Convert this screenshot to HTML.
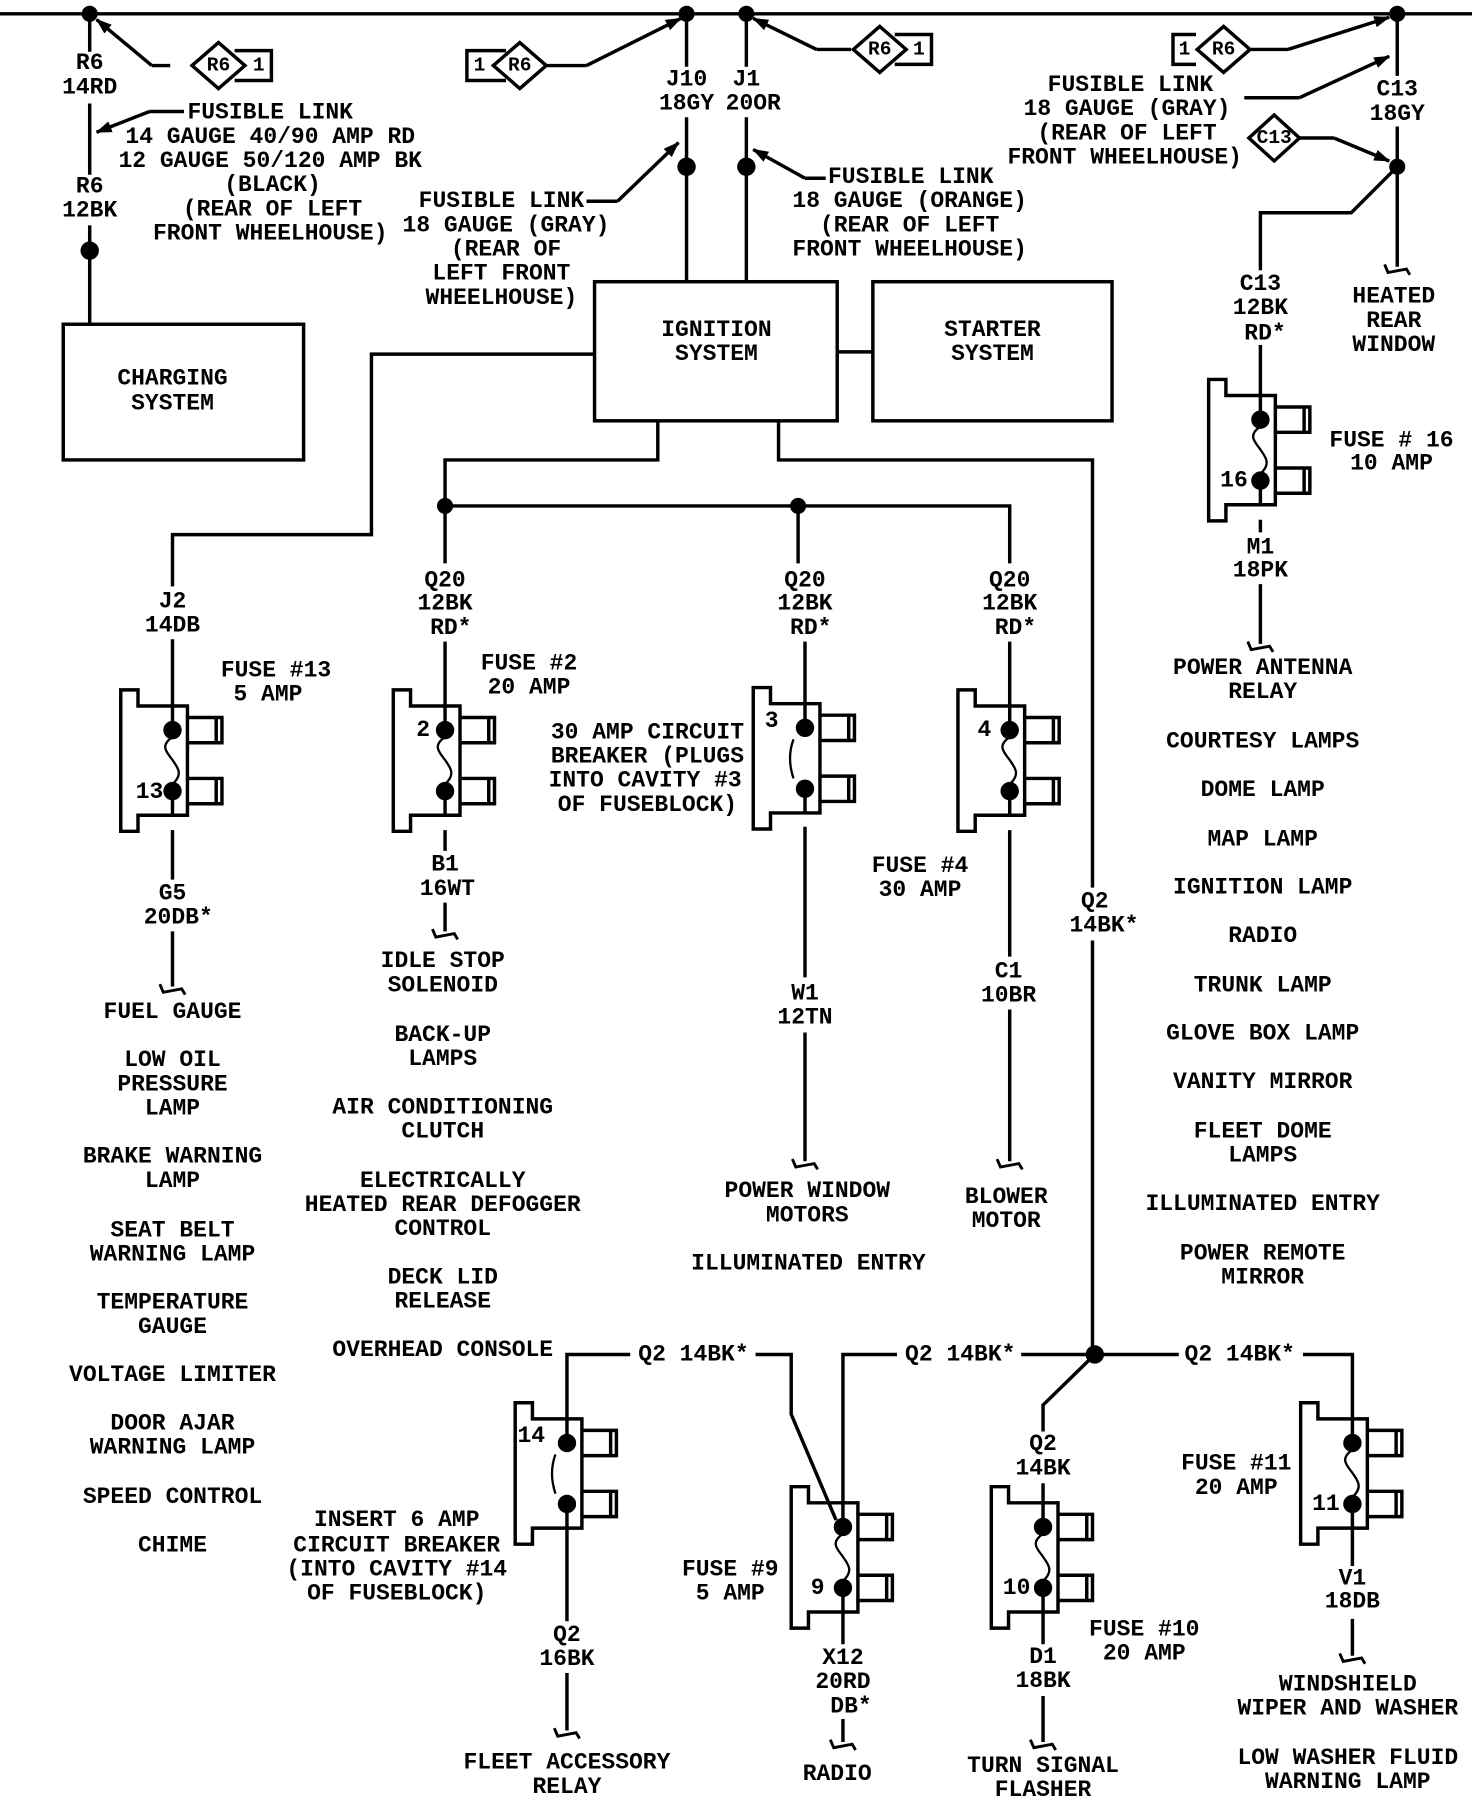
<!DOCTYPE html>
<html><head><meta charset="utf-8">
<style>
html,body{margin:0;padding:0;background:#fff;}
svg{display:block;}
text{font-family:"Liberation Mono",monospace;font-weight:bold;font-size:20px;fill:#000;dominant-baseline:central;text-anchor:middle;}
.l{text-anchor:start;}
.r{text-anchor:end;}
</style></head><body>
<svg width="1472" height="1796" viewBox="0 0 1280 1562" preserveAspectRatio="none" xmlns="http://www.w3.org/2000/svg">
<defs>
<marker id="ar" markerWidth="14" markerHeight="10" refX="13" refY="5" orient="auto" markerUnits="userSpaceOnUse">
<path d="M0,0 L14,5 L0,10 Z" fill="#000"/></marker>
<g id="fb">
<polygon points="-45,-35 -30,-35 -30,-21 13,-21 13,74 -30,74 -30,88 -45,88" fill="none" stroke="#000" stroke-width="3"/>
<path d="M13,-11 H43 V11 H13 M13,42 H43 V64 H13 M38,-11 V11 M38,42 V64" fill="none" stroke="#000" stroke-width="3"/>
<line x1="0" y1="-21" x2="0" y2="0" stroke="#000" stroke-width="3"/>
<line x1="0" y1="53" x2="0" y2="74" stroke="#000" stroke-width="3"/>
<circle cx="0" cy="0" r="8"/><circle cx="0" cy="53" r="8"/>
</g>
<g id="fuse"><use href="#fb"/><path d="M0,6 C-12,14 -4,20 0,26 C4,32 10,38 0,47" fill="none" stroke="#000" stroke-width="2"/></g>
<g id="brk"><use href="#fb"/><path d="M-10,10 Q-16,26 -10,44" fill="none" stroke="#000" stroke-width="2"/></g>
<path id="gnd" d="M-11,-2 L-8,5 L8,2 L11,7" fill="none" stroke="#000" stroke-width="2.5"/>
</defs>

<g stroke="#000" stroke-width="3" fill="none">
<line x1="0" y1="12" x2="1280" y2="12"/>
<path d="M78,12 V45 M78,90 V152 M78,196 V282"/>
<rect x="55" y="282" width="209" height="118"/>
<path d="M148,57 H132" /><line x1="132" y1="57" x2="84" y2="17" marker-end="url(#ar)"/>
<polygon points="190,37 213,57 190,77 167,57"/>
<path d="M204,44 H236 V70 H204"/>
<path d="M160,97 H130"/><line x1="130" y1="97" x2="84" y2="115" marker-end="url(#ar)"/>
<path d="M440,44 H406 V70 H440"/>
<polygon points="452,37 475,57 452,77 429,57"/>
<path d="M475,57 H510"/><line x1="510" y1="57" x2="592" y2="16" marker-end="url(#ar)"/>
<path d="M597,12 V58 M597,102 V245"/>
<path d="M649,12 V58 M649,102 V245"/>
<path d="M510,175 H537"/><line x1="537" y1="175" x2="590" y2="124" marker-end="url(#ar)"/>
<path d="M718,155 H700"/><line x1="700" y1="155" x2="655" y2="130" marker-end="url(#ar)"/>
<path d="M740,43 H710"/><line x1="710" y1="43" x2="655" y2="16" marker-end="url(#ar)"/>
<polygon points="765,23 788,43 765,63 742,43"/>
<path d="M778,30 H810 V56 H778"/>
<rect x="517" y="245" width="211" height="121"/>
<rect x="759" y="245" width="208" height="121"/>
<path d="M728,306 H759"/>
<path d="M517,308 H323 V465 H150 V510"/>
<path d="M572,366 V400 H387 V490"/>
<path d="M387,440 H878 V490"/>
<path d="M694,440 V490"/>
<path d="M677,366 V400 H950 V772 M950,818 V1178"/>
<path d="M150,556 V614 M150,722 V765 M150,810 V858"/>
<path d="M387,558 V614 M387,722 V740 M387,785 V810"/>
<path d="M700,558 V612 M700,719 V850 M700,898 V1010"/>
<path d="M878,558 V614 M878,722 V832 M878,878 V1010"/>
<path d="M1215,12 V66 M1215,110 V232"/>
<path d="M1215,145 L1175,185 H1096 V235 M1096,300 V344 M1096,452 V463 M1096,508 V560"/>
<path d="M1040,30 H1020 V56 H1040"/>
<polygon points="1064,23 1087,43 1064,63 1041,43"/>
<path d="M1087,43 H1120"/><line x1="1120" y1="43" x2="1208" y2="15" marker-end="url(#ar)"/>
<path d="M1082,85 H1130"/><line x1="1130" y1="85" x2="1208" y2="49" marker-end="url(#ar)"/>
<polygon points="1108,100 1130,120 1108,140 1086,120"/>
<path d="M1130,120 H1160"/><line x1="1160" y1="120" x2="1208" y2="140" marker-end="url(#ar)"/>
<path d="M493,1234 V1178 H548 M657,1178 H688 V1230 L727,1322"/>
<path d="M888,1178 H952 H1025 M780,1178 H733 V1307"/>
<path d="M1133,1178 H1176 V1234"/>
<path d="M952,1178 L907,1222 V1245 M907,1290 V1307"/>
<path d="M493,1329 V1410 M493,1455 V1505"/>
<path d="M733,1402 V1430 M733,1495 V1515"/>
<path d="M907,1402 V1430 M907,1475 V1515"/>
<path d="M1176,1329 V1362 M1176,1408 V1440"/>
</g>

<g fill="#000">
<circle cx="78" cy="12" r="7"/><circle cx="597" cy="12" r="7"/><circle cx="649" cy="12" r="7"/><circle cx="1215" cy="12" r="7"/>
<circle cx="78" cy="218" r="8"/><circle cx="597" cy="145" r="8"/><circle cx="649" cy="145" r="8"/>
<circle cx="1215" cy="145" r="7"/><circle cx="387" cy="440" r="7"/><circle cx="694" cy="440" r="7"/><circle cx="952" cy="1178" r="8"/>
</g>

<use href="#fuse" x="150" y="635"/>
<use href="#fuse" x="387" y="635"/>
<use href="#brk" x="700" y="633"/>
<use href="#fuse" x="878" y="635"/>
<use href="#fuse" x="1096" y="365"/>
<use href="#brk" x="493" y="1255"/>
<use href="#fuse" x="733" y="1328"/>
<use href="#fuse" x="907" y="1328"/>
<use href="#fuse" x="1176" y="1255"/>

<use href="#gnd" x="150" y="858"/><use href="#gnd" x="387" y="810"/><use href="#gnd" x="700" y="1010"/><use href="#gnd" x="878" y="1010"/>
<use href="#gnd" x="1096" y="560"/><use href="#gnd" x="1215" y="232"/><use href="#gnd" x="493" y="1505"/><use href="#gnd" x="733" y="1515"/>
<use href="#gnd" x="907" y="1515"/><use href="#gnd" x="1176" y="1440"/>

<text x="78" y="55">R6</text><text x="78" y="76">14RD</text>
<text x="78" y="162">R6</text><text x="78" y="183">12BK</text>
<text x="190" y="57" style="font-size:17px">R6</text><text x="225" y="57" style="font-size:17px">1</text>
<text x="417" y="57" style="font-size:17px">1</text><text x="452" y="57" style="font-size:17px">R6</text>
<text x="765" y="43" style="font-size:17px">R6</text><text x="799" y="43" style="font-size:17px">1</text>
<text x="1030" y="43" style="font-size:17px">1</text><text x="1064" y="43" style="font-size:17px">R6</text>
<text x="1108" y="120" style="font-size:17px">C13</text>
<text class="l" x="163" y="98">FUSIBLE LINK</text>
<text x="235" y="119">14 GAUGE 40/90 AMP RD</text>
<text x="235" y="140">12 GAUGE 50/120 AMP BK</text>
<text x="237" y="161">(BLACK)</text>
<text x="237" y="182">(REAR OF LEFT</text>
<text x="235" y="203">FRONT WHEELHOUSE)</text>
<text x="150" y="329">CHARGING</text><text x="150" y="351">SYSTEM</text>
<text x="597" y="69">J10</text><text x="597" y="90">18GY</text>
<text x="649" y="69">J1</text><text x="655" y="90">20OR</text>
<text class="r" x="508" y="175">FUSIBLE LINK</text>
<text x="440" y="196">18 GAUGE (GRAY)</text>
<text x="440" y="217">(REAR OF</text>
<text x="436" y="238">LEFT FRONT</text>
<text x="436" y="259">WHEELHOUSE)</text>
<text class="l" x="720" y="154">FUSIBLE LINK</text>
<text x="791" y="175">18 GAUGE (ORANGE)</text>
<text x="791" y="196">(REAR OF LEFT</text>
<text x="791" y="217">FRONT WHEELHOUSE)</text>
<text x="623" y="287">IGNITION</text><text x="623" y="308">SYSTEM</text>
<text x="863" y="287">STARTER</text><text x="863" y="308">SYSTEM</text>
<text x="983" y="74">FUSIBLE LINK</text>
<text x="980" y="95">18 GAUGE (GRAY)</text>
<text x="980" y="116">(REAR OF LEFT</text>
<text x="978" y="137">FRONT WHEELHOUSE)</text>
<text x="1215" y="78">C13</text><text x="1215" y="99">18GY</text>
<text x="1212" y="258">HEATED</text><text x="1212" y="279">REAR</text><text x="1212" y="300">WINDOW</text>
<text x="1096" y="247">C13</text><text x="1096" y="268">12BK</text><text x="1100" y="290">RD*</text>
<text x="1073" y="418">16</text>
<text x="1210" y="383">FUSE # 16</text><text x="1210" y="403">10 AMP</text>
<text x="1096" y="476">M1</text><text x="1096" y="496">18PK</text>
<text x="1098" y="581">POWER ANTENNA</text><text x="1098" y="602">RELAY</text>
<text x="1098" y="645">COURTESY LAMPS</text>
<text x="1098" y="687">DOME LAMP</text>
<text x="1098" y="730">MAP LAMP</text>
<text x="1098" y="772">IGNITION LAMP</text>
<text x="1098" y="814">RADIO</text>
<text x="1098" y="857">TRUNK LAMP</text>
<text x="1098" y="899">GLOVE BOX LAMP</text>
<text x="1098" y="941">VANITY MIRROR</text>
<text x="1098" y="984">FLEET DOME</text><text x="1098" y="1005">LAMPS</text>
<text x="1098" y="1047">ILLUMINATED ENTRY</text>
<text x="1098" y="1090">POWER REMOTE</text><text x="1098" y="1111">MIRROR</text>

<text x="150" y="523">J2</text><text x="150" y="544">14DB</text>
<text x="240" y="583">FUSE #13</text><text x="233" y="604">5 AMP</text>
<text x="130" y="689">13</text>
<text x="150" y="777">G5</text><text x="155" y="798">20DB*</text>
<text x="150" y="880">FUEL GAUGE</text>
<text x="150" y="922">LOW OIL</text><text x="150" y="943">PRESSURE</text><text x="150" y="964">LAMP</text>
<text x="150" y="1006">BRAKE WARNING</text><text x="150" y="1027">LAMP</text>
<text x="150" y="1070">SEAT BELT</text><text x="150" y="1091">WARNING LAMP</text>
<text x="150" y="1133">TEMPERATURE</text><text x="150" y="1154">GAUGE</text>
<text x="150" y="1196">VOLTAGE LIMITER</text>
<text x="150" y="1238">DOOR AJAR</text><text x="150" y="1259">WARNING LAMP</text>
<text x="150" y="1302">SPEED CONTROL</text>
<text x="150" y="1344">CHIME</text>

<text x="387" y="505">Q20</text><text x="387" y="525">12BK</text><text x="392" y="546">RD*</text>
<text x="460" y="577">FUSE #2</text><text x="460" y="598">20 AMP</text>
<text x="368" y="635">2</text>
<text x="387" y="752">B1</text><text x="389" y="773">16WT</text>
<text x="385" y="836">IDLE STOP</text><text x="385" y="857">SOLENOID</text>
<text x="385" y="900">BACK-UP</text><text x="385" y="921">LAMPS</text>
<text x="385" y="963">AIR CONDITIONING</text><text x="385" y="984">CLUTCH</text>
<text x="385" y="1027">ELECTRICALLY</text><text x="385" y="1048">HEATED REAR DEFOGGER</text><text x="385" y="1069">CONTROL</text>
<text x="385" y="1111">DECK LID</text><text x="385" y="1132">RELEASE</text>
<text x="385" y="1174">OVERHEAD CONSOLE</text>

<text x="700" y="505">Q20</text><text x="700" y="525">12BK</text><text x="705" y="546">RD*</text>
<text x="563" y="637">30 AMP CIRCUIT</text><text x="563" y="658">BREAKER (PLUGS</text>
<text x="561" y="679">INTO CAVITY #3</text><text x="563" y="700">OF FUSEBLOCK)</text>
<text x="671" y="627">3</text>
<text x="700" y="864">W1</text><text x="700" y="885">12TN</text>
<text x="702" y="1036">POWER WINDOW</text><text x="702" y="1057">MOTORS</text>
<text x="703" y="1099">ILLUMINATED ENTRY</text>

<text x="878" y="505">Q20</text><text x="878" y="525">12BK</text><text x="883" y="546">RD*</text>
<text x="856" y="635">4</text>
<text x="800" y="753">FUSE #4</text><text x="800" y="774">30 AMP</text>
<text x="877" y="845">C1</text><text x="877" y="866">10BR</text>
<text x="875" y="1041">BLOWER</text><text x="875" y="1062">MOTOR</text>
<text x="952" y="784">Q2</text><text x="960" y="805">14BK*</text>

<text x="603" y="1178">Q2 14BK*</text>
<text x="835" y="1178">Q2 14BK*</text>
<text x="1078" y="1178">Q2 14BK*</text>
<text x="462" y="1249">14</text>
<text x="345" y="1322">INSERT 6 AMP</text><text x="345" y="1344">CIRCUIT BREAKER</text>
<text x="345" y="1365">(INTO CAVITY #14</text><text x="345" y="1386">OF FUSEBLOCK)</text>
<text x="493" y="1422">Q2</text><text x="493" y="1443">16BK</text>
<text x="493" y="1533">FLEET ACCESSORY</text><text x="493" y="1554">RELAY</text>
<text x="635" y="1365">FUSE #9</text><text x="635" y="1386">5 AMP</text>
<text x="711" y="1381">9</text>
<text x="733" y="1442">X12</text><text x="733" y="1463">20RD</text><text x="740" y="1484">DB*</text>
<text x="728" y="1543">RADIO</text>
<text x="907" y="1256">Q2</text><text x="907" y="1277">14BK</text>
<text x="884" y="1381">10</text>
<text x="995" y="1417">FUSE #10</text><text x="995" y="1438">20 AMP</text>
<text x="907" y="1441">D1</text><text x="907" y="1462">18BK</text>
<text x="907" y="1536">TURN SIGNAL</text><text x="907" y="1557">FLASHER</text>
<text x="1075" y="1273">FUSE #11</text><text x="1075" y="1294">20 AMP</text>
<text x="1153" y="1308">11</text>
<text x="1176" y="1373">V1</text><text x="1176" y="1393">18DB</text>
<text x="1172" y="1465">WINDSHIELD</text><text x="1172" y="1486">WIPER AND WASHER</text>
<text x="1172" y="1529">LOW WASHER FLUID</text><text x="1172" y="1550">WARNING LAMP</text>
</svg>
</body></html>
